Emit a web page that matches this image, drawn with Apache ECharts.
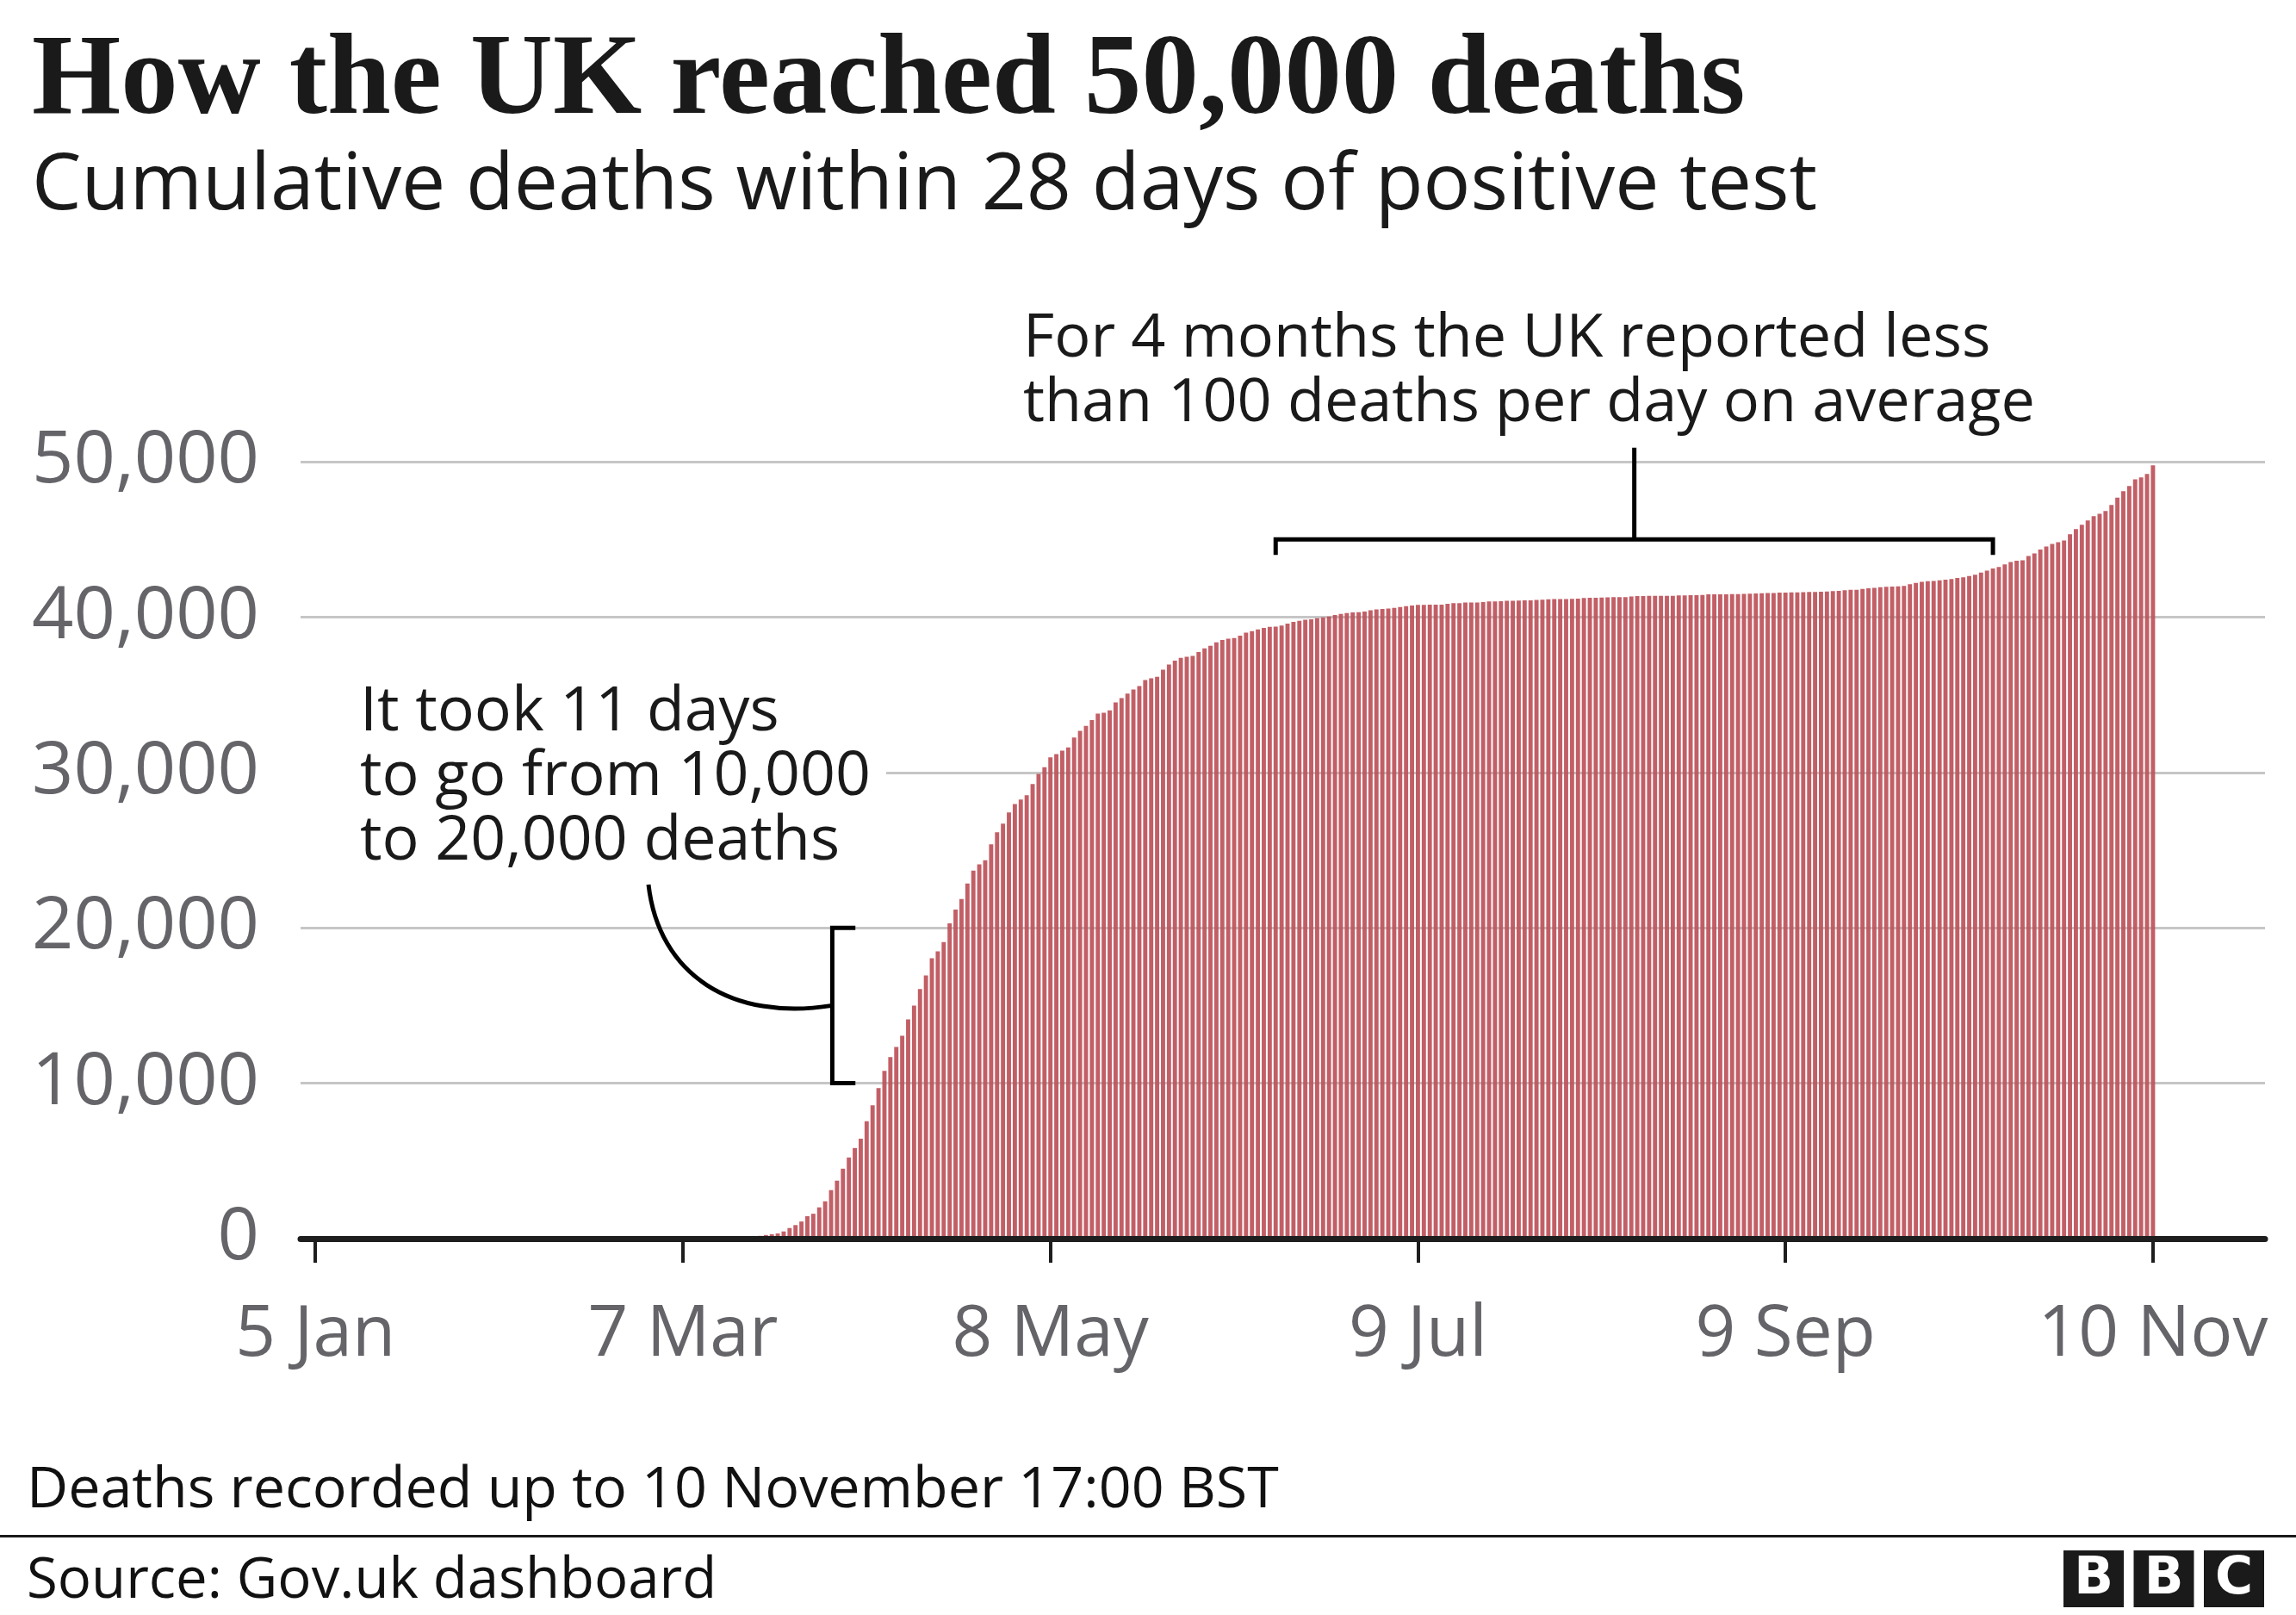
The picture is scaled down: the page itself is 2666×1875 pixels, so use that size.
<!DOCTYPE html>
<html>
<head>
<meta charset="utf-8">
<script src="https://cdn.jsdelivr.net/npm/echarts@6/dist/echarts.min.js"></script>
<style>
html,body{margin:0;padding:0;background:#fff;}
#c{width:2666px;height:1875px;}
</style>
</head>
<body>
<div id="c"></div>
<script>
// ---------------- DATA ----------------
// Cumulative UK deaths within 28 days of a positive test, by day
const axisStartDate = '2020-01-05';
const tickDates  = ['2020-01-05','2020-03-07','2020-05-08','2020-07-09','2020-09-09','2020-11-10'];
const tickLabels = ['5 Jan','7 Mar','8 May','9 Jul','9 Sep','10 Nov'];
const yTickValues = [0, 10000, 20000, 30000, 40000, 50000];

// each month array starts on the date given in monthStartDates (same order)
const monthStartDates = ['2020-03-05','2020-04-01','2020-05-01','2020-06-01','2020-07-01','2020-08-01','2020-09-01','2020-10-01','2020-11-01'];
const marchDeaths = [1,2,2,3,4,6,8,8,10,21,35,55,71,104,144,177,233,281,330,460,680,870,1100,1440,1600,2010,2400];
const aprilDeaths = [3120,3730,4500,5220,5830,6430,7550,8580,9690,10800,11680,12340,13050,14110,15000,16060,16930,18040,18490,19080,20290,21180,21850,22850,23680,24080,24350,25370,26150,26700];
const mayDeaths = [27420,27970,28250,28530,29250,29900,30340,30970,31180,31400,31610,32250,32680,33000,33370,33790,33840,33990,34500,34790,35070,35340,35560,35950,36060,36150,36610,36940,37200,37370,37440];
const juneDeaths = [37500,37750,37990,38150,38370,38530,38610,38650,38800,38990,39100,39210,39300,39370,39390,39460,39580,39690,39760,39830,39850,39930,39980,40040,40130,40200,40260,40300,40310,40350];
const julyDeaths = [40440,40500,40520,40550,40590,40650,40700,40740,40790,40790,40800,40800,40800,40850,40890,40900,40940,40940,40940,40960,41000,41010,41020,41050,41050,41060,41070,41070,41110,41120,41140];
const augustDeaths = [41160,41160,41160,41170,41180,41230,41240,41240,41250,41270,41280,41290,41290,41330,41350,41350,41360,41360,41360,41370,41370,41400,41400,41410,41410,41420,41460,41460,41470,41470,41480];
const septemberDeaths = [41480,41490,41510,41520,41530,41540,41550,41570,41580,41590,41590,41600,41610,41620,41630,41650,41670,41690,41730,41750,41760,41810,41850,41880,41920,41950,41960,41980,42010,42120];
const octoberDeaths = [42200,42270,42310,42320,42360,42400,42450,42510,42560,42640,42720,42860,42990,43120,43230,43390,43540,43620,43650,43930,44100,44340,44540,44700,44820,44930,45330,45660,45940,46220,46490];
const novemberDeaths = [46640,46830,47210,47690,48100,48430,48870,48990,49210,49760];

// Annotation anchors (in data space: dates / deaths)
const slowPeriod = {fromDate:'2020-06-15', toDate:'2020-10-14'};
const fastPeriod = {from:10000, to:20000};

// ---------------- TEXT ----------------
const titleText = 'How the UK reached 50,000 deaths';
const subtitleText = 'Cumulative deaths within 28 days of positive test';
const topNoteLines = ['For 4 months the UK reported less','than 100 deaths per day on average'];
const leftNoteLines = ['It took 11 days','to go from 10,000','to 20,000 deaths'];
const footnoteText = 'Deaths recorded up to 10 November 17:00 BST';
const sourceText = 'Source: Gov.uk dashboard';

// ---------------- HELPERS ----------------
function dayIndex(s){
  const [y,m,d] = s.split('-').map(Number);
  const [y0,m0,d0] = axisStartDate.split('-').map(Number);
  return Math.round((Date.UTC(y,m-1,d) - Date.UTC(y0,m0-1,d0)) / 86400000);
}
const SANS = '"Open Sans", "Noto Sans", sans-serif';
const SERIF = '"Liberation Serif", "DejaVu Serif", serif';
const mctx = document.createElement('canvas').getContext('2d');
function fit(text, family, weight, target){
  mctx.font = weight + ' 100px ' + family;
  return 100 * target / mctx.measureText(text).width;
}
function fmt(v){ return String(v).replace(/\B(?=(\d{3})+(?!\d))/g, ','); }

const GRAY = '#646469';
const INK = '#1a1a1a';
const BAR = '#bd535a';

const monthArrays = [marchDeaths, aprilDeaths, mayDeaths, juneDeaths, julyDeaths, augustDeaths, septemberDeaths, octoberDeaths, novemberDeaths];
const barData = [];
monthArrays.forEach((arr, k) => {
  const s = dayIndex(monthStartDates[k]);
  arr.forEach((v, i) => barData.push([s + i, v]));
});
const tickDays = tickDates.map(dayIndex);

const titleSize = fit(titleText, SERIF, 'bold', 1990);
const subSize = fit(subtitleText, SANS, 'normal', 2074);
const topSize = fit(topNoteLines[1], SANS, 'normal', 1175);
const leftSize = fit(leftNoteLines[1], SANS, 'normal', 593);
const footSize = fit(footnoteText, SANS, 'normal', 1454);
const srcSize = fit(sourceText, SANS, 'normal', 801);
const ySize = fit('50,000', SANS, 'normal', 264);
const xSize = fit('10 Nov', SANS, 'normal', 267);

const chart = echarts.init(document.getElementById('c'), null, {renderer:'canvas', width:2666, height:1875});

const option = {
  animation: false,
  backgroundColor: '#ffffff',
  grid: {left: 349, right: 36, top: 536, bottom: 437, containLabel: false},
  xAxis: {
    type: 'value', min: -2.5, max: 328.9, z: 4,
    splitLine: {show: false},
    axisLine: {show: true, onZero: true, lineStyle: {color: '#1e1e1e', width: 7}},
    axisTick: {show: true, customValues: tickDays, length: 28, lineStyle: {color: '#1e1e1e', width: 4}},
    axisLabel: {
      customValues: tickDays,
      formatter: v => tickLabels[tickDays.indexOf(Math.round(v))] || '',
      color: GRAY, fontFamily: SANS, fontSize: xSize, lineHeight: xSize,
      verticalAlign: 'top', margin: Math.round(1583 - 0.888 * xSize - 1438)
    }
  },
  yAxis: {
    type: 'value', min: yTickValues[0], max: yTickValues[yTickValues.length-1], interval: 10000, z: 1,
    axisLine: {show: false}, axisTick: {show: false},
    splitLine: {show: true, lineStyle: {color: '#c6c6c6', width: 3}},
    axisLabel: {color: GRAY, fontFamily: SANS, fontSize: ySize, margin: 48, formatter: v => fmt(v)}
  },
  series: [{
    type: 'bar', data: barData, barWidth: 4.9, z: 2, silent: true,
    itemStyle: {color: BAR, opacity: 0.93}
  }]
};
chart.setOption(option);

const P = (d, v) => chart.convertToPixel({gridIndex: 0}, [d, v]);

// top bracket
const d1 = dayIndex(slowPeriod.fromDate), d2 = dayIndex(slowPeriod.toDate), dm = (d1 + d2) / 2;
const tl = P(d1, 45000), tr = P(d2, 45000), tlb = P(d1, 44000), trb = P(d2, 44000);
const stemB = P(dm, 45000), stemT = P(dm, 50900);
// left bracket
const lbx = 87.2, lbt = 91.1;
const lb1 = P(lbt, fastPeriod.to), lb2 = P(lbx, fastPeriod.to), lb3 = P(lbx, fastPeriod.from), lb4 = P(lbt, fastPeriod.from);
const lbMid = P(lbx, (fastPeriod.from + fastPeriod.to) / 2);

const LW = 5;
function txt(text, x, y, font, fill, align){
  return {type:'text', z: 20, position:[x, y], style:{text: text, fill: fill || INK, font: font, align: align || 'left', verticalAlign:'middle'}};
}
const graphics = [
  txt(titleText, 37, 97, 'bold ' + titleSize.toFixed(1) + 'px ' + SERIF),
  txt(subtitleText, 37, 217, subSize.toFixed(1) + 'px ' + SANS),
  txt(topNoteLines[0], 1188, 394, topSize.toFixed(1) + 'px ' + SANS),
  txt(topNoteLines[1], 1188, 469, topSize.toFixed(1) + 'px ' + SANS),
  {type:'polyline', z: 20, shape:{points:[tlb, tl, tr, trb]}, style:{stroke:'#000', lineWidth: LW, fill: null}},
  {type:'line', z: 20, shape:{x1: stemB[0], y1: stemB[1], x2: stemT[0], y2: stemT[1]}, style:{stroke:'#000', lineWidth: LW}},
  {type:'rect', z: 15, shape:{x: 349, y: 785, width: 680, height: 232}, style:{fill:'#ffffff'}},
  txt(leftNoteLines[0], 418, 828, leftSize.toFixed(1) + 'px ' + SANS),
  txt(leftNoteLines[1], 418, 903, leftSize.toFixed(1) + 'px ' + SANS),
  txt(leftNoteLines[2], 418, 978, leftSize.toFixed(1) + 'px ' + SANS),
  {type:'polyline', z: 20, shape:{points:[lb1, lb2, lb3, lb4]}, style:{stroke:'#000', lineWidth: LW, fill: null}},
  {type:'bezierCurve', z: 20, shape:{x1: 753, y1: 1027, cpx1: 765, cpy1: 1132, cpx2: 850, cpy2: 1186, x2: lbMid[0], y2: lbMid[1]}, style:{stroke:'#000', lineWidth: LW, fill: null}},
  txt(footnoteText, 31, 1731, footSize.toFixed(1) + 'px ' + SANS, '#111'),
  {type:'rect', z: 20, shape:{x: 0, y: 1782, width: 2666, height: 3}, style:{fill:'#1a1a1a'}},
  txt(sourceText, 31, 1836, srcSize.toFixed(1) + 'px ' + SANS, '#111')
];
['B','B','C'].forEach((ch, i) => {
  const x = 2396 + i * 81.5;
  graphics.push({type:'rect', z: 20, shape:{x: x, y: 1800, width: 70, height: 66}, style:{fill:'#1a1a1a'}});
  graphics.push(txt(ch, x + 35, 1834, 'bold 60px "DejaVu Sans", sans-serif', '#ffffff', 'center'));
});

chart.setOption({graphic: graphics});
</script>
</body>
</html>
